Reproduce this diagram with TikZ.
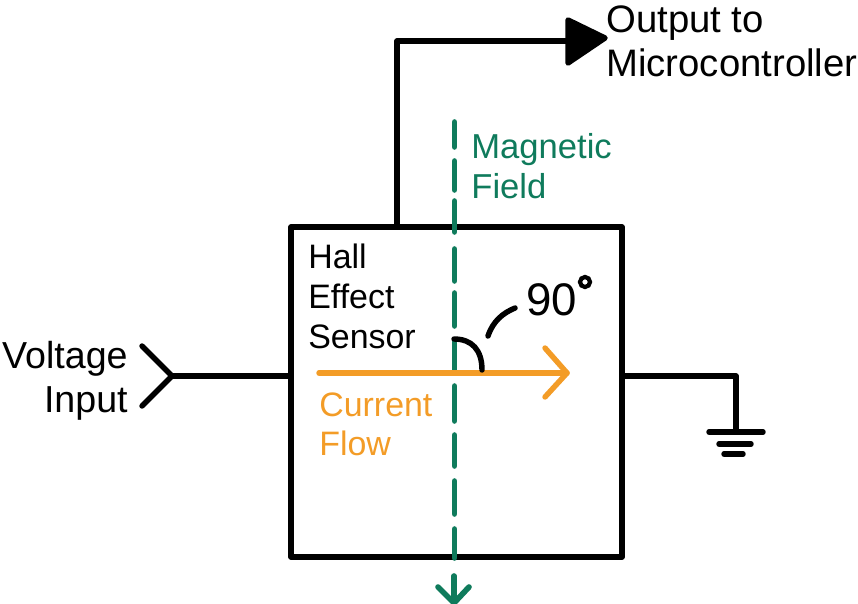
\documentclass[tikz,border=0pt]{standalone}
\usepackage{fontspec}
\setmainfont{Liberation Sans}
\definecolor{fieldgreen}{HTML}{0F7B5C}
\definecolor{currentorange}{HTML}{F39C27}
\tikzset{
  wire/.style={line width=3.1pt,line cap=round,line join=round,black},
  fieldline/.style={line width=3.2pt,line cap=round,line join=round,fieldgreen},
  currentline/.style={line width=3.1pt,line cap=round,line join=round,currentorange},
  label/.style={inner sep=0pt,align=left,anchor=north west,font=\fontsize{19.3pt}{22.7pt}\selectfont},
}
\begin{document}
\begin{tikzpicture}[x=0.02cm,y=-0.02cm]
  \useasboundingbox (0,0) rectangle (858,604);

  % sensor box
  \node[draw,wire,minimum width=6.62cm,minimum height=6.6cm,inner sep=0pt] (box) at (456.5,392) {};

  % voltage input
  \coordinate (vin) at (172,376);
  \coordinate (vintop) at (142,346);
  \coordinate (vinbot) at (142,406);
  \draw[wire] (vintop) -- (vin) -- (vinbot);
  \draw[wire] (vin) -- (vin -| box.west);
  \node[inner sep=0pt,align=right,anchor=north east,font=\fontsize{21.4pt}{25.2pt}\selectfont] (vlabel) at (128,341) {Voltage\\Input};

  % output
  \coordinate (outstart) at (397,227);
  \coordinate (outcorner) at (397,41);
  \coordinate (outend) at (568,41);
  \draw[wire] (outstart) -- (outcorner) -- (outend);
  \draw[wire,fill=black] (568,20) -- (605,38) -- (568,63) -- cycle;
  \node[inner sep=0pt,align=left,anchor=north west,font=\fontsize{21.8pt}{25pt}\selectfont] (outlabel) at (606,5) {Output to\\Microcontroller};

  % ground
  \coordinate (gndcorner) at (736,376);
  \coordinate (gnd) at (736,432);
  \draw[wire] (box.east |- gndcorner) -- (gndcorner) -- (gnd);
  \draw[wire] (709,432) -- (763,432);
  \draw[wire] (719,444) -- (751,444);
  \draw[wire] (724,454) -- (743,454);

  % magnetic field
  \foreach \ya/\yb in {122/147,161/190,201/232,249/281,293/326,341/373,386/421,435/466,481/514,529/558}
    \draw[fieldline] (454.5,\ya) -- (454.5,\yb);
  \draw[fieldline] (454,576) -- (454,603);
  \draw[fieldline] (438,587) -- (454,603) -- (469,587);
  \node[label,text=fieldgreen,font=\fontsize{19.7pt}{22.7pt}\selectfont] (fieldlabel) at (471,133) {Magnetic\\Field};

  % current flow
  \coordinate (curstart) at (319,373);
  \coordinate (curend) at (567,373);
  \draw[currentline] (curstart) -- (curend);
  \draw[currentline] (545,348) -- (567,373) -- (545,397);
  \node[label,text=currentorange] (curlabel) at (319,392) {Current\\Flow};

  \node[label] (hall) at (308,244) {Hall\\Effect\\Sensor};

  % angle
  \coordinate (angtop) at (454,339);
  \coordinate (angbot) at (482,370);
  \draw[wire] (angtop) .. controls (472,339) and (482,350) .. (angbot);
  \coordinate (lead) at (488,336);
  \coordinate (leadend) at (515,308);
  \draw[wire] (lead) .. controls (493,321) and (503,313) .. (leadend);
  \node[inner sep=0pt,anchor=north west,font=\fontsize{26pt}{30pt}\selectfont] (ninety) at (526,283) {90};
  \node[draw,circle,black,line width=2.4pt,minimum size=0.2cm,inner sep=0pt] (deg) at (585,282) {};
\end{tikzpicture}
\end{document}
